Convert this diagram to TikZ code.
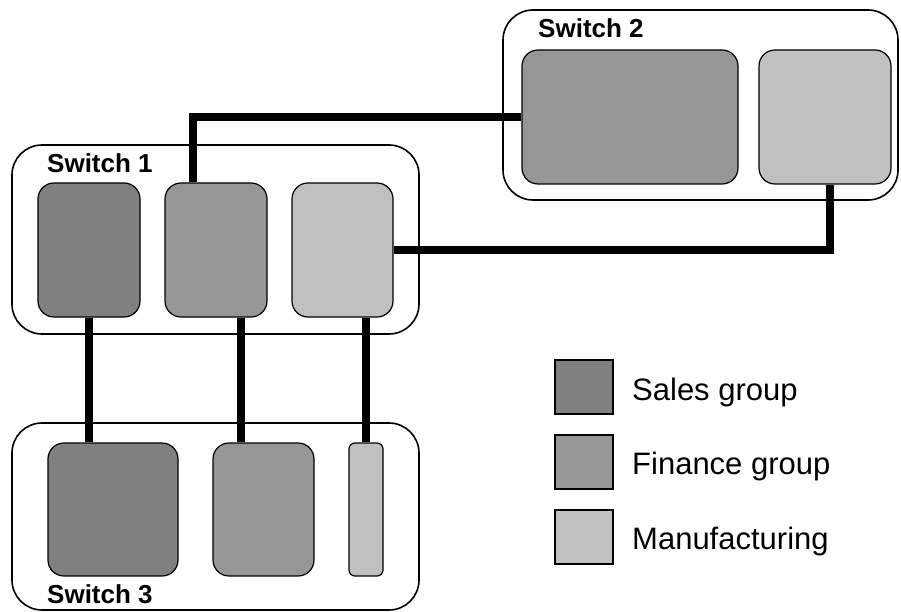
\documentclass[tikz,border=0pt]{standalone}
\usepackage{fontspec}
\setmainfont{Liberation Sans}
\definecolor{salesc}{HTML}{808080}
\definecolor{financec}{HTML}{969696}
\definecolor{manufc}{HTML}{C0C0C0}
\begin{document}
\begin{tikzpicture}[x=1pt,y=-1pt,
  outerbox/.style={draw=black,line width=1.6pt,rounded corners=30pt,inner sep=0pt},
  vlan/.style={draw=black,line width=1.2pt,rounded corners=16pt,inner sep=0pt},
  legbox/.style={draw=black,line width=1.2pt,inner sep=0pt,minimum width=58pt,minimum height=54pt},
  link/.style={line width=7.5pt,line cap=butt},
  swlabel/.style={font=\bfseries\fontsize{26}{26}\selectfont,anchor=base west,inner sep=0pt},
  leglabel/.style={font=\fontsize{31}{31}\selectfont,anchor=base west,inner sep=0pt}]
\useasboundingbox (0,0) rectangle (901,612);
% outer switches
\node[outerbox,minimum width=407pt,minimum height=189pt] (sw1) at (215.5,239.5) {};
\node[outerbox,minimum width=395pt,minimum height=190pt] (sw2) at (700.5,105) {};
\node[outerbox,minimum width=407pt,minimum height=187pt] (sw3) at (215.5,516.5) {};
% switch 1 vlans
\node[vlan,fill=salesc,minimum width=102pt,minimum height=134pt] (s1) at (89,250) {};
\node[vlan,fill=financec,minimum width=102pt,minimum height=134pt] (f1) at (216,250) {};
\node[vlan,fill=manufc,minimum width=101pt,minimum height=134pt] (m1) at (342.5,250) {};
% switch 2 vlans
\node[vlan,fill=financec,minimum width=216pt,minimum height=134pt] (f2) at (630,117) {};
\node[vlan,fill=manufc,minimum width=132pt,minimum height=134pt] (m2) at (825,117) {};
% switch 3 vlans
\node[vlan,fill=salesc,minimum width=130pt,minimum height=133pt] (s3) at (113,509.5) {};
\node[vlan,fill=financec,minimum width=101pt,minimum height=133pt] (f3) at (263.5,509.5) {};
\node[vlan,fill=manufc,rounded corners=6pt,minimum width=34pt,minimum height=133pt] (m3) at (366,509.5) {};
% labels
\node[swlabel] (l1) at (47,173) {Switch 1};
\node[swlabel] (l2) at (538,38) {Switch 2};
\node[swlabel] (l3) at (47,603) {Switch 3};
% links
\coordinate (f1top) at ([xshift=-23pt]f1.north);
\draw[link] (f1top) |- (f2.west);
\coordinate (m2bot) at ([xshift=5pt]m2.south);
\draw[link] (m2bot) |- (m1.east);
\draw[link] (s1.south) -- (s1.south |- s3.north);
\coordinate (f1bot) at ([xshift=25pt]f1.south);
\draw[link] (f1bot) -- (f1bot |- f3.north);
\draw[link] (m3.north |- m1.south) -- (m3.north);
% legend
\node[legbox,fill=salesc] (k1) at (584,387) {};
\node[legbox,fill=financec] (k2) at (584,462) {};
\node[legbox,fill=manufc] (k3) at (584,537) {};
\node[leglabel] (t1) at (632,400) {Sales group};
\node[leglabel] (t2) at (632,474) {Finance group};
\node[leglabel] (t3) at (632,549) {Manufacturing};
\end{tikzpicture}
\end{document}
